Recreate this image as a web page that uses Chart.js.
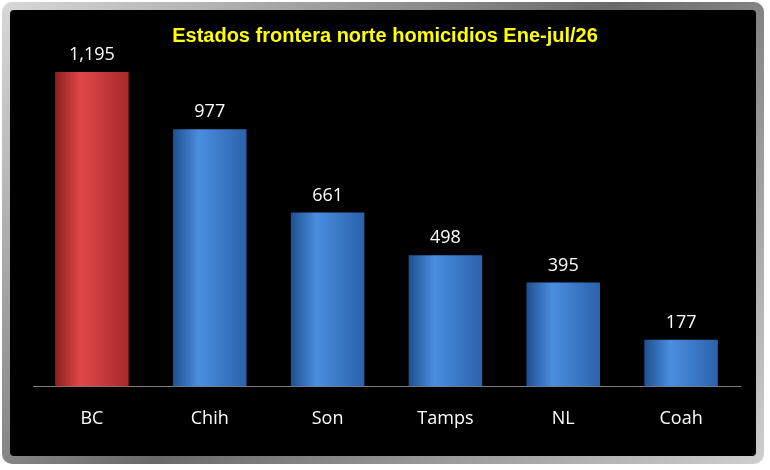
<!DOCTYPE html>
<html>
<head>
<meta charset="utf-8">
<script src="https://cdn.jsdelivr.net/npm/chart.js@4"></script>
<style>
  html, body { margin: 0; padding: 0; background: #fff; }
  #frame {
    position: absolute; left: 2px; top: 2px; width: 762px; height: 462px;
    border-radius: 10px;
    background: linear-gradient(135deg, #d8d8d8, #6a6a6a 50%, #cfcfcf);
  }
  #inner {
    position: absolute; left: 8px; top: 8px; right: 8px; bottom: 8px;
    background: #000; border-radius: 4px;
  }
  #title {
    position: absolute; left: 0; right: 0; top: 24px; text-align: center;
    color: #ffff00; font: bold 20px "Liberation Sans", Arial, sans-serif;
  }
  #wrap { position: absolute; left: 0; top: 0; width: 770px; height: 470px; }
</style>
</head>
<body>
<div id="frame"><div id="inner"></div></div>
<div id="wrap"><canvas id="chart" width="770" height="470"></canvas></div>
<div id="title">Estados frontera norte homicidios Ene-jul/26</div>
<script>
// Data
const states = ['BC', 'Chih', 'Son', 'Tamps', 'NL', 'Coah'];
const homicides = [1195, 977, 661, 498, 395, 177];
const barColors = [
  ['#8e1f1f', '#e04848', '#a92828'],
  ['#1f4f8f', '#4a8ee0', '#2a62aa'],
  ['#1f4f8f', '#4a8ee0', '#2a62aa'],
  ['#1f4f8f', '#4a8ee0', '#2a62aa'],
  ['#1f4f8f', '#4a8ee0', '#2a62aa'],
  ['#1f4f8f', '#4a8ee0', '#2a62aa']
];

const gradientBars = {
  id: 'gradientBars',
  beforeDatasetsDraw(chart) {
    const ctx = chart.ctx;
    chart.getDatasetMeta(0).data.forEach((el, i) => {
      const left = el.x - el.width / 2, right = el.x + el.width / 2;
      const g = ctx.createLinearGradient(left, 0, right, 0);
      g.addColorStop(0, barColors[i][0]);
      g.addColorStop(0.35, barColors[i][1]);
      g.addColorStop(1, barColors[i][2]);
      el.options = Object.assign({}, el.options, { backgroundColor: g });
    });
  },
  afterDatasetsDraw(chart) {
    const ctx = chart.ctx;
    ctx.save();
    ctx.fillStyle = '#ffffff';
    ctx.font = '18px "Open Sans", "Liberation Sans", sans-serif';
    ctx.textAlign = 'center';
    ctx.textBaseline = 'bottom';
    chart.getDatasetMeta(0).data.forEach((el, i) => {
      ctx.fillText(homicides[i].toLocaleString('en-US'), el.x, el.y - 8);
    });
    ctx.restore();
  }
};

new Chart(document.getElementById('chart'), {
  type: 'bar',
  data: {
    labels: states,
    datasets: [{
      data: homicides,
      backgroundColor: '#3a78c8',
      borderWidth: 0,
      barPercentage: 0.78,
      categoryPercentage: 0.8
    }]
  },
  options: {
    responsive: false,
    animation: false,
    layout: { padding: { left: 33, right: 30, top: 18, bottom: 18 } },
    scales: {
      y: {
        display: false,
        min: 0,
        max: 1400
      },
      x: {
        grid: { display: false, drawTicks: false },
        border: { display: true, color: '#7f7f7f', width: 1 },
        ticks: {
          color: '#ffffff',
          padding: 22,
          font: { size: 18, family: '"Open Sans", "Liberation Sans", sans-serif' }
        }
      }
    },
    plugins: {
      legend: { display: false },
      tooltip: { enabled: false }
    }
  },
  plugins: [gradientBars]
});
</script>
</body>
</html>
